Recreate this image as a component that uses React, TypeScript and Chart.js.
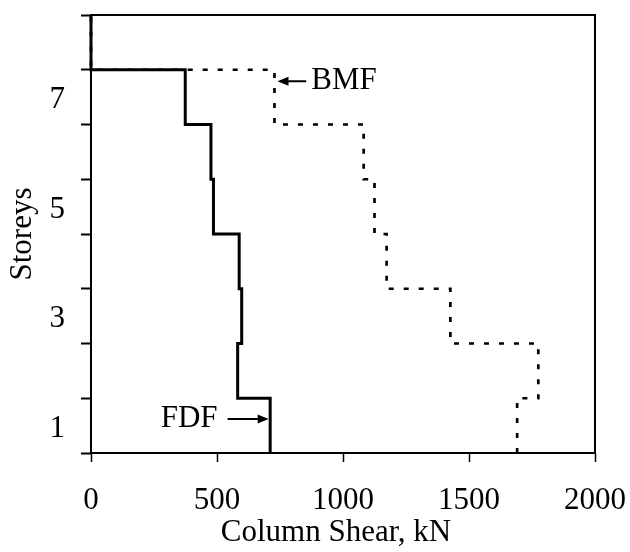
import React, { useEffect, useRef } from 'react';
import { Chart, registerables } from 'chart.js';

Chart.register(...registerables);

const FONT = "'Liberation Serif', 'Times New Roman', serif";

// Storey numbers (1 = ground storey)
const storeys = [1, 2, 3, 4, 5, 6, 7, 8];
// Column shear per storey (kN)
const fdfShear = [711, 582, 598, 588, 486, 476, 374, 0];
const bmfShear = [1691, 1775, 1426, 1173, 1125, 1082, 728, 0];

const xTickValues = [0, 500, 1000, 1500, 2000];
const yLabelStoreys = [1, 3, 5, 7];
const xTitle = 'Column Shear, kN';
const yTitle = 'Storeys';

// Callouts: label, arrow tip/tail (kN) and level (storey units)
const callouts = [
  { text: 'BMF', level: 6.79, tip: 740, tail: 854, textAt: 874, align: 'left' },
  { text: 'FDF', level: 0.62, tip: 705, tail: 542, textAt: 502, align: 'right' },
];

function stepPoints(values: number[]) {
  const pts: { x: number; y: number }[] = [];
  values.forEach((v, i) => {
    pts.push({ x: v, y: storeys[i] - 1 });
    pts.push({ x: v, y: storeys[i] });
  });
  return pts;
}

const framePlugin = {
  id: 'frame',
  beforeDatasetsDraw(chart: any) {
    const { ctx, chartArea } = chart;
    ctx.save();
    ctx.strokeStyle = '#000';
    ctx.lineWidth = 2;
    ctx.strokeRect(chartArea.left, chartArea.top, chartArea.right - chartArea.left, chartArea.bottom - chartArea.top);
    ctx.restore();
  },
  afterDatasetsDraw(chart: any) {
    const { ctx, scales } = chart;
    const x = scales.x;
    const y = scales.y;
    ctx.save();
    ctx.fillStyle = '#000';
    ctx.strokeStyle = '#000';
    ctx.font = `31px ${FONT}`;
    for (const a of callouts) {
      const tipX = x.getPixelForValue(a.tip);
      const tailX = x.getPixelForValue(a.tail);
      const py = y.getPixelForValue(a.level);
      const dir = Math.sign(tipX - tailX);
      ctx.lineWidth = 2;
      ctx.beginPath();
      ctx.moveTo(tailX, py);
      ctx.lineTo(tipX - dir * 8, py);
      ctx.stroke();
      ctx.beginPath();
      ctx.moveTo(tipX, py);
      ctx.lineTo(tipX - dir * 11, py - 4.5);
      ctx.lineTo(tipX - dir * 11, py + 4.5);
      ctx.closePath();
      ctx.fill();
      ctx.textAlign = a.align;
      ctx.textBaseline = 'middle';
      ctx.fillText(a.text, x.getPixelForValue(a.textAt), py);
    }
    // axis titles
    const ca = chart.chartArea;
    ctx.textAlign = 'center';
    ctx.textBaseline = 'middle';
    ctx.fillText(xTitle, 336, 533);
    ctx.save();
    ctx.translate(22.5, (ca.top + ca.bottom) / 2);
    ctx.rotate(-Math.PI / 2);
    ctx.fillText(yTitle, 0, 0);
    ctx.restore();
    ctx.restore();
  },
};

export default function App() {
  const ref = useRef<HTMLCanvasElement>(null);

  useEffect(() => {
    if (!ref.current) return;
    const chart = new Chart(ref.current, {
      type: 'scatter',
      data: {
        datasets: [
          {
            label: 'BMF',
            data: stepPoints(bmfShear),
            showLine: true,
            borderColor: '#000',
            borderWidth: 2.7,
            borderDash: [5, 10],
            pointRadius: 0,
            clip: false,
          } as any,
          {
            label: 'FDF',
            data: stepPoints(fdfShear),
            showLine: true,
            borderColor: '#000',
            borderWidth: 3,
            pointRadius: 0,
            clip: false,
          } as any,
        ],
      },
      options: {
        animation: false,
        responsive: false,
        layout: { padding: { top: 15, right: 35, left: 0, bottom: 0 } },
        plugins: { legend: { display: false }, tooltip: { enabled: false } },
        scales: {
          x: {
            type: 'linear',
            min: 0,
            max: 2000,
            afterBuildTicks: (s: any) => {
              s.ticks = xTickValues.map((v) => ({ value: v }));
            },
            afterFit: (s: any) => {
              s.height = 99;
              s.paddingLeft = 0;
              s.paddingRight = 0;
              s.paddingTop = 0;
              s.paddingBottom = 0;
            },
            border: { display: false },
            grid: {
              drawOnChartArea: false,
              drawTicks: true,
              tickLength: 9,
              tickWidth: 1.5,
              tickColor: '#000',
            },
            ticks: {
              color: '#000',
              font: { family: FONT, size: 31, lineHeight: 1 },
              padding: 23,
              maxRotation: 0,
              autoSkip: false,
              callback: (v: any) => String(v),
            },
          },
          y: {
            type: 'linear',
            min: 0,
            max: 8,
            afterBuildTicks: (s: any) => {
              const t = [];
              for (let v = 0; v <= 8; v += 0.5) t.push({ value: v });
              s.ticks = t;
            },
            afterFit: (s: any) => {
              s.width = 91;
              s.paddingLeft = 0;
              s.paddingRight = 0;
              s.paddingTop = 0;
              s.paddingBottom = 0;
            },
            border: { display: false },
            grid: {
              drawOnChartArea: false,
              drawTicks: true,
              tickLength: 10,
              tickWidth: 2,
              tickColor: (c: any) =>
                c.tick && Number.isInteger(c.tick.value) ? '#000' : 'rgba(0,0,0,0)',
            },
            ticks: {
              color: '#000',
              font: { family: FONT, size: 31, lineHeight: 1 },
              padding: 16,
              labelOffset: 3,
              autoSkip: false,
              callback: (v: any) => {
                const s = Number(v) + 0.5;
                return !Number.isInteger(Number(v)) && yLabelStoreys.includes(s) ? String(s) : '';
              },
            },
          },
        },
      },
      plugins: [framePlugin],
    });
    return () => chart.destroy();
  }, []);

  return (
    <div style={{ position: 'absolute', left: 0, top: 0, width: 630, height: 552, background: '#fff' }}>
      <canvas ref={ref} width={630} height={552} style={{ display: 'block' }} />
    </div>
  );
}
